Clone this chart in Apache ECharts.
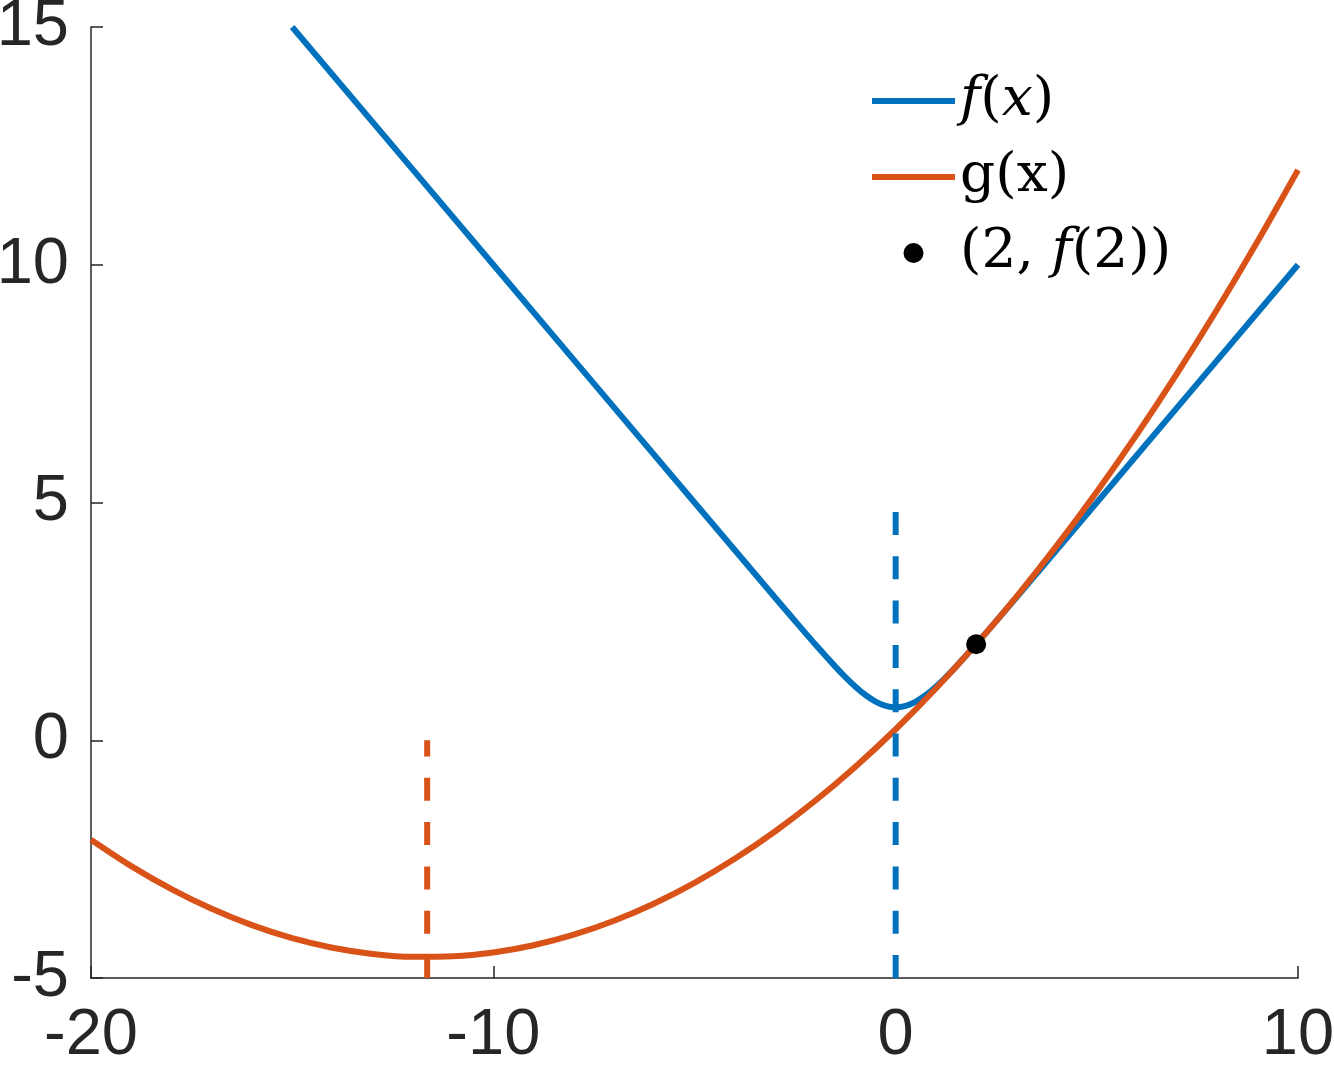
<!DOCTYPE html>
<html>
<head>
<meta charset="utf-8">
<script src="https://cdn.jsdelivr.net/npm/echarts@6/dist/echarts.min.js"></script>
<style>html,body{margin:0;padding:0;background:#fff}#c{width:1334px;height:1067px}</style>
</head>
<body>
<div id="c"></div>
<script>
// f(x) samples
const fX = [-15, -10, -5, -4, -3, -2.5, -2, -1.5, -1.25, -1, -0.75, -0.5, -0.25, 0, 0.25, 0.5, 0.75, 1, 1.25, 1.5, 2, 2.5, 3, 4, 5, 10];
const fY = [15, 10, 5, 4.000, 3.002, 2.507, 2.018, 1.549, 1.329, 1.127, 0.951, 0.813, 0.724, 0.693, 0.724, 0.813, 0.951, 1.127, 1.329, 1.549, 2.018, 2.507, 3.002, 4.000, 5.000, 10];
// g(x) samples
const gX = [-20, -19, -18, -17, -16, -15, -14, -13, -12, -11, -10, -9, -8, -7, -6, -5, -4, -3, -2, -1, 0, 1, 2, 3, 4, 5, 6, 7, 8, 9, 10];
const gY = [-2.093, -2.648, -3.132, -3.546, -3.889, -4.162, -4.363, -4.494, -4.555, -4.544, -4.464, -4.312, -4.090, -3.797, -3.433, -2.999, -2.494, -1.919, -1.273, -0.556, 0.231, 1.089, 2.018, 3.017, 4.088, 5.228, 6.439, 7.721, 9.074, 10.497, 11.991];
// dashed markers at minima (drawn bottom-up)
const fMinX = [0, 0];
const fMinY = [-5, 5];
const gMinX = [-11.645, -11.645];
const gMinY = [-5, 0];
// highlighted point
const ptX = [2];
const ptY = [2.018];
// axes
const xTicks = [-20, -10, 0, 10];
const yTicks = [-5, 0, 5, 10, 15];

const zip = (a, b) => a.map((v, i) => [v, b[i]]);
const BLUE = '#0072BD', ORANGE = '#D95319', AX = '#262626';
const serif = 'DejaVu Serif';
const LINE_ICON = 'path://M0,0L83,0L83,6L0,6Z';

const chart = echarts.init(document.getElementById('c'), null, {renderer: 'canvas'});
chart.setOption({
  animation: false,
  backgroundColor: '#fff',
  grid: {left: 91, right: 36, top: 27, bottom: 89, containLabel: false, outerBoundsMode: 'none'},
  xAxis: {
    type: 'value', min: xTicks[0], max: xTicks[xTicks.length - 1], interval: 10,
    axisLine: {onZero: false, lineStyle: {color: AX, width: 1.5}},
    axisTick: {inside: true, length: 12, lineStyle: {color: AX, width: 1.5}},
    splitLine: {show: false},
    axisLabel: {color: AX, fontFamily: 'Liberation Sans', fontSize: 65, margin: 26,
      formatter: v => String(v)}
  },
  yAxis: {
    type: 'value', min: yTicks[0], max: yTicks[yTicks.length - 1], interval: 5,
    axisLine: {show: true, onZero: false, lineStyle: {color: AX, width: 1.5}},
    axisTick: {show: true, inside: true, length: 12, lineStyle: {color: AX, width: 1.5}},
    splitLine: {show: false},
    axisLabel: {color: AX, fontFamily: 'Liberation Sans', fontSize: 65, margin: 22,
      formatter: v => String(v)}
  },
  legend: {
    orient: 'vertical', left: 867, top: 65,
    itemWidth: 83, itemHeight: 20, itemGap: 14, symbolKeepAspect: true,
    data: [{name: 'f', icon: LINE_ICON}, {name: 'g', icon: LINE_ICON}, {name: 'p', icon: 'circle'}],
    textStyle: {
      fontFamily: serif, fontSize: 55, color: '#000', lineHeight: 62,
      rich: {
        r: {fontFamily: serif, fontSize: 55, color: '#000', lineHeight: 62},
        i: {fontFamily: serif, fontSize: 55, fontStyle: 'italic', color: '#000', lineHeight: 62}
      }
    },
    formatter: n => n === 'f' ? '{i|f}{r|(}{i|x}{r|)}'
                 : n === 'g' ? '{r|g(x)}'
                 : '{r|(2, }{i|f}{r|(2))}'
  },
  series: [
    {name: 'f', type: 'line', data: zip(fX, fY), symbol: 'none', showSymbol: false, z: 2,
      smooth: 0.25,
      lineStyle: {color: BLUE, width: 6}, itemStyle: {color: BLUE}},
    {name: 'g', type: 'line', data: zip(gX, gY), symbol: 'none', showSymbol: false, z: 3,
      smooth: 0.3,
      lineStyle: {color: ORANGE, width: 6}, itemStyle: {color: ORANGE}},
    {name: 'fmin', type: 'line', data: zip(fMinX, fMinY), symbol: 'none', z: 4,
      lineStyle: {color: BLUE, width: 6, type: [23, 21.3]}},
    {name: 'gmin', type: 'line', data: zip(gMinX, gMinY), symbol: 'none', z: 4,
      lineStyle: {color: ORANGE, width: 6, type: [23, 21.3]}},
    {name: 'p', type: 'scatter', data: zip(ptX, ptY), symbol: 'circle', symbolSize: 20, z: 5,
      itemStyle: {color: '#000', opacity: 1}}
  ]
});
</script>
</body>
</html>
